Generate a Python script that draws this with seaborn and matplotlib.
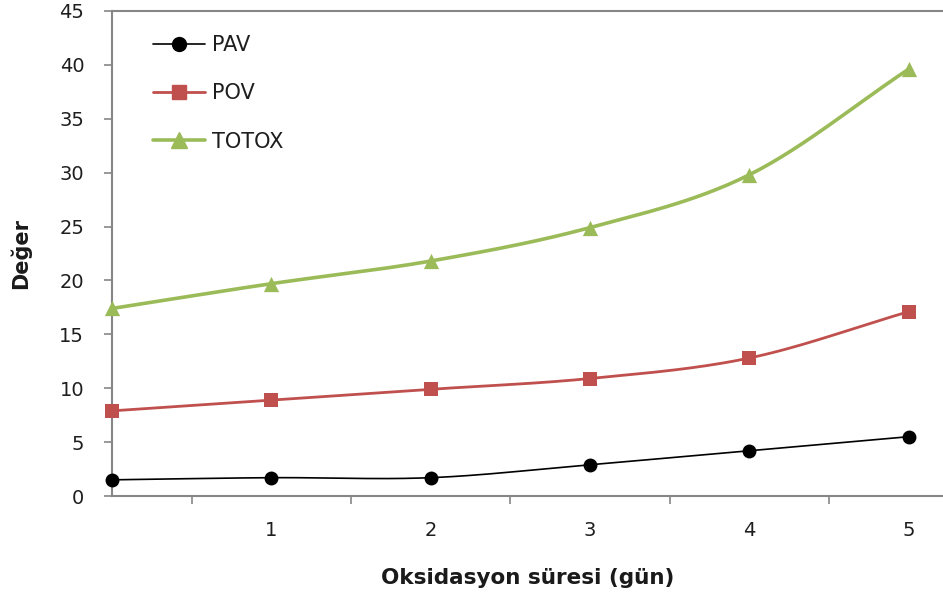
import numpy as np
import pandas as pd
import seaborn as sns
import matplotlib
matplotlib.use("Agg")
import matplotlib.pyplot as plt
from matplotlib.lines import Line2D

days = [0, 1, 2, 3, 4, 5]
x_tick_labels = ["1", "2", "3", "4", "5"]
pav = [1.5, 1.7, 1.7, 2.9, 4.2, 5.5]
pov = [7.9, 8.9, 9.9, 10.9, 12.8, 17.1]
totox = [17.4, 19.7, 21.8, 24.9, 29.8, 39.6]
series_names = ["PAV", "POV", "TOTOX"]

sns.set_theme(style="white")
plt.rcParams['font.family'] = ['DejaVu Sans']

fig = plt.figure(figsize=(9.43, 5.96), dpi=100)
ax = fig.add_axes([112/943, 1 - 496/596, 1 - 112/943, (496 - 11)/596])

def smooth(xs, ys, n=30):
    # Catmull-Rom style curve through the points (display smoothing like Excel)
    xs = np.asarray(xs, float); ys = np.asarray(ys, float)
    px = np.concatenate([[2*xs[0]-xs[1]], xs, [2*xs[-1]-xs[-2]]])
    py = np.concatenate([[2*ys[0]-ys[1]], ys, [2*ys[-1]-ys[-2]]])
    outx, outy = [], []
    for i in range(1, len(px) - 2):
        t = np.linspace(0, 1, n, endpoint=False)
        for arr, out in ((px, outx), (py, outy)):
            p0, p1, p2, p3 = arr[i-1], arr[i], arr[i+1], arr[i+2]
            out.extend(0.5*((2*p1) + (-p0+p2)*t + (2*p0-5*p1+4*p2-p3)*t**2 + (-p0+3*p1-3*p2+p3)*t**3))
    outx.append(xs[-1]); outy.append(ys[-1])
    return np.array(outx), np.array(outy)

styles = [
    ("PAV", pav, "black", "o", 10, 1.2),
    ("POV", pov, "#C0504D", "s", 9.5, 2.0),
    ("TOTOX", totox, "#9BBB59", "^", 11, 2.6),
]

handles = []
for name, vals, color, marker, ms, lw in styles:
    sx, sy = smooth(days, vals)
    sns.lineplot(x=sx, y=sy, ax=ax, color=color, linewidth=lw, sort=False, estimator=None)
    df = pd.DataFrame({"x": days, "y": vals})
    sns.scatterplot(data=df, x="x", y="y", ax=ax, color=color, marker=marker,
                    s=ms**2, edgecolor=color, linewidth=0, zorder=5)
    handles.append(Line2D([0], [0], color=color, linewidth=lw, marker=marker,
                          markersize=ms, markeredgecolor=color))
for c in ax.collections:
    c.set_clip_on(False)

ax.set_xlim(0, (943 - 112) / 159.3)
ax.set_ylim(0, 45)
ax.set_yticks(np.arange(0, 46, 5))
ax.set_xticks([0.5, 1.5, 2.5, 3.5, 4.5])
ax.set_xticklabels([])
ax.set_xticks([1, 2, 3, 4, 5], minor=True)
ax.set_xticklabels(x_tick_labels, minor=True)
ax.tick_params(axis='x', which='major', bottom=True, direction='out', length=6, width=1.2, color='#868686')
ax.tick_params(axis='x', which='minor', bottom=True, length=0, pad=18, labelsize=14, labelcolor='#1e1e1e')
ax.tick_params(axis='y', left=True, direction='out', length=6, width=1.2, color='#868686',
               labelsize=14, labelcolor='#1e1e1e', pad=14)

for side in ['left', 'bottom', 'top']:
    ax.spines[side].set_visible(True)
    ax.spines[side].set_color('#868686')
    ax.spines[side].set_linewidth(1.5)
ax.spines['right'].set_visible(False)

ax.set_xlabel("Oksidasyon süresi (gün)", fontsize=15.5, fontweight='bold', color='#1a1a1a', labelpad=20)
ax.set_ylabel("Değer", fontsize=15, fontweight='bold', color='#1a1a1a', labelpad=20)

leg = ax.legend(handles, series_names, loc='upper left', bbox_to_anchor=(0.049, 0.95),
                frameon=False, fontsize=15, handlelength=2.5, handletextpad=0.35,
                labelspacing=1.35, borderpad=0, borderaxespad=0)
for t in leg.get_texts():
    t.set_color('#1e1e1e')

fig.savefig("out.png", dpi=100)
